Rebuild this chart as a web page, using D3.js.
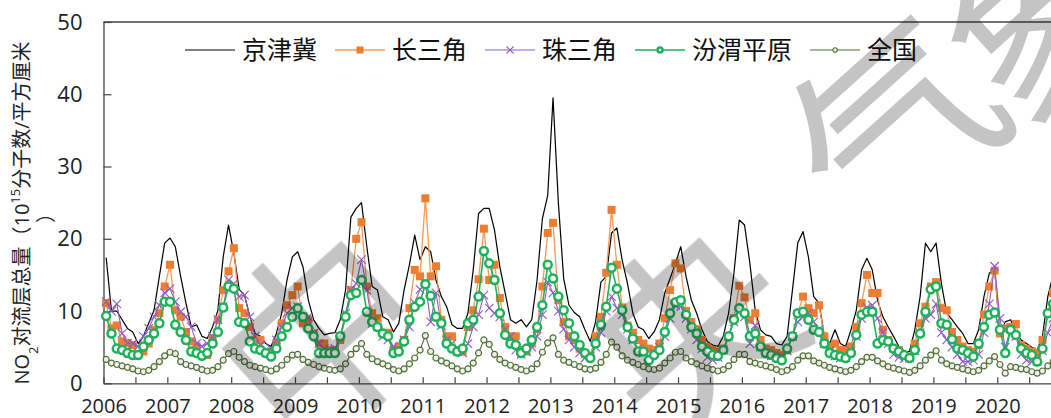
<!DOCTYPE html>
<html>
<head>
<meta charset="utf-8">
<script src="https://cdn.jsdelivr.net/npm/d3@7"></script>
<style>
  html, body { margin: 0; padding: 0; background: #fff; }
  svg { display: block; }
  text { font-family: "Open Sans", "Noto Sans CJK SC", sans-serif; }
</style>
</head>
<body>
<svg id="chart" width="1051" height="418"></svg>
<script>
// Monthly tropospheric NO2 columns, Jan 2006 - Dec 2020 (10^15 molecules/cm^2)
const startYear = 2006;
const yearLabels = [2006, 2007, 2008, 2009, 2010, 2011, 2012, 2013, 2014, 2015, 2016, 2017, 2018, 2019, 2020];
const yTicks = [0, 10, 20, 30, 40, 50];

const jingJinJi = [
  17.4, 10.0, 10.0, 8.8, 7.6, 7.1, 5.5, 6.5, 8.3, 10.1, 14.8, 19.4,
  20.1, 18.9, 14.8, 11.1, 7.8, 8.1, 6.5, 6.2, 7.8, 10.1, 17.5, 21.9,
  18.0, 13.0, 12.2, 9.3, 6.9, 6.5, 5.5, 5.1, 6.9, 9.7, 14.3, 17.5,
  18.2, 16.1, 11.5, 8.8, 7.6, 6.7, 6.9, 7.0, 8.8, 12.9, 23.0, 24.2,
  25.0, 18.9, 13.4, 12.9, 9.2, 8.8, 7.1, 8.3, 12.9, 16.4, 20.5, 17.1,
  18.9, 18.2, 14.3, 12.0, 10.6, 8.1, 7.6, 7.6, 9.7, 15.7, 23.5, 24.2,
  24.2, 21.2, 16.1, 12.5, 8.8, 8.3, 8.8, 7.8, 8.8, 14.3, 22.8, 26.0,
  39.5, 25.0, 14.5, 10.8, 9.8, 9.2, 7.4, 5.8, 8.5, 14.0, 14.8, 20.8,
  21.5, 17.0, 13.8, 9.7, 7.8, 7.4, 6.2, 7.1, 8.8, 12.5, 14.5, 16.6,
  18.9, 14.8, 11.5, 9.7, 7.4, 5.8, 5.3, 5.1, 6.5, 9.7, 15.2, 22.6,
  21.9, 16.6, 10.1, 7.4, 6.7, 6.5, 5.5, 5.3, 6.5, 12.9, 19.4, 21.0,
  17.5, 12.0, 11.1, 6.5, 5.5, 7.4, 5.5, 5.1, 7.4, 10.1, 15.7, 17.3,
  15.7, 11.5, 9.2, 7.8, 6.5, 5.1, 4.4, 4.4, 7.4, 12.0, 19.4, 18.2,
  19.4, 13.8, 9.7, 8.8, 7.8, 6.9, 5.5, 5.5, 7.4, 12.0, 15.2, 15.9,
  6.8, 8.5, 8.8, 7.0, 6.0, 5.5, 5.0, 4.6, 6.5, 12.0, 15.0, 18.0
];

const yangtzeDelta = [
  11.1, 7.6, 8.0, 5.8, 5.6, 5.3, 3.9, 4.4, 5.5, 7.4, 9.7, 13.4,
  16.4, 10.1, 9.2, 7.1, 5.8, 5.1, 3.9, 3.9, 6.2, 8.8, 12.9, 15.5,
  18.7, 10.4, 9.7, 7.8, 6.0, 6.0, 4.2, 4.4, 5.5, 8.3, 10.8, 12.2,
  13.4, 8.3, 8.8, 6.9, 5.5, 5.5, 4.6, 4.6, 6.0, 9.2, 12.9, 20.0,
  22.3, 13.4, 9.7, 9.0, 6.9, 7.0, 4.6, 5.1, 6.0, 10.4, 15.7, 14.8,
  25.6, 14.8, 16.2, 8.8, 6.5, 6.5, 4.6, 4.4, 7.8, 10.1, 14.4, 21.4,
  14.3, 16.4, 11.8, 7.8, 6.5, 6.5, 4.6, 4.4, 5.5, 7.5, 13.4, 20.8,
  22.2, 11.5, 8.5, 6.5, 6.0, 4.8, 4.0, 3.8, 6.5, 9.2, 15.3, 24.0,
  16.4, 10.5, 8.0, 7.0, 6.0, 5.5, 4.8, 4.6, 5.5, 9.0, 12.9, 16.6,
  15.9, 10.0, 8.5, 7.5, 6.0, 5.0, 4.6, 4.4, 4.8, 6.5, 9.0, 13.5,
  11.9, 8.8, 9.7, 6.0, 4.8, 4.6, 4.2, 3.9, 4.6, 6.5, 9.7, 12.0,
  10.4, 9.7, 10.8, 6.5, 5.1, 5.5, 4.6, 4.6, 5.1, 7.8, 11.1, 15.0,
  12.5, 12.5, 7.4, 6.0, 4.8, 4.6, 3.9, 3.7, 5.5, 8.3, 10.6, 13.4,
  14.0, 10.4, 10.1, 7.1, 6.0, 5.1, 4.6, 4.4, 5.3, 9.5, 13.4, 15.6,
  6.9, 7.6, 7.8, 8.2, 5.3, 4.8, 4.4, 4.2, 6.0, 9.7, 12.5, 15.0
];

const pearlDelta = [
  11.3, 10.0, 11.0, 6.9, 5.5, 5.5, 5.1, 6.5, 7.6, 9.2, 10.8, 12.5,
  13.1, 11.3, 9.9, 9.2, 7.8, 5.5, 5.1, 5.5, 6.5, 8.8, 10.6, 14.3,
  13.8, 12.0, 12.2, 9.2, 6.5, 5.3, 4.2, 4.8, 6.0, 7.8, 9.7, 10.4,
  10.6, 9.2, 9.2, 6.9, 5.5, 4.8, 4.6, 4.8, 6.5, 9.7, 12.9, 13.8,
  17.1, 12.9, 8.3, 7.8, 6.5, 6.0, 5.1, 4.6, 6.0, 7.8, 11.1, 13.0,
  13.8, 8.5, 12.5, 8.0, 6.0, 5.5, 4.4, 4.2, 5.5, 7.8, 9.5, 12.2,
  10.4, 9.7, 9.2, 7.4, 6.5, 4.6, 4.0, 4.4, 5.0, 6.5, 9.5, 14.0,
  12.5, 10.0, 7.5, 6.0, 5.0, 4.2, 3.5, 3.8, 5.0, 7.0, 10.0, 12.0,
  10.4, 9.5, 7.5, 6.0, 4.8, 4.2, 3.8, 4.2, 5.0, 6.5, 9.0, 10.8,
  10.6, 9.0, 7.5, 6.0, 4.8, 3.6, 3.2, 3.6, 4.6, 6.5, 8.5, 10.0,
  9.2, 5.5, 8.0, 5.0, 4.2, 3.8, 3.5, 3.8, 4.5, 6.5, 8.5, 9.2,
  9.7, 8.5, 7.5, 5.5, 4.5, 3.8, 3.5, 3.6, 4.5, 6.5, 9.0, 10.5,
  10.8, 9.0, 7.0, 5.5, 4.0, 3.6, 3.4, 3.5, 4.5, 7.0, 9.0, 9.5,
  11.0, 7.0, 6.0, 5.0, 4.0, 3.0, 3.0, 3.2, 4.0, 7.0, 11.0, 16.2,
  9.0, 5.0, 7.5, 6.5, 4.0, 3.2, 3.0, 3.0, 4.5, 7.0, 9.0, 12.0
];

const fenweiPlain = [
  9.3, 6.9, 4.8, 4.6, 4.2, 3.9, 3.9, 5.1, 6.0, 6.9, 8.3, 11.3,
  11.3, 8.1, 7.1, 6.0, 4.4, 4.2, 3.8, 4.2, 5.5, 7.1, 10.5, 13.4,
  13.1, 8.5, 8.3, 5.8, 4.8, 4.6, 4.2, 3.7, 4.8, 6.5, 7.8, 9.2,
  10.4, 9.2, 7.6, 6.5, 4.2, 4.2, 4.2, 4.2, 6.5, 9.2, 12.2, 12.5,
  14.3, 9.9, 8.5, 7.8, 6.9, 6.5, 4.2, 4.4, 5.8, 8.8, 10.6, 11.3,
  13.7, 12.1, 9.2, 8.3, 5.5, 4.8, 4.4, 4.8, 8.3, 8.8, 12.0, 18.3,
  16.6, 14.3, 9.7, 6.7, 5.5, 5.3, 4.2, 4.8, 6.0, 7.8, 10.8, 16.4,
  14.5, 12.0, 10.1, 8.3, 6.5, 5.3, 4.2, 3.5, 5.5, 8.1, 10.6, 16.0,
  13.1, 10.1, 7.8, 6.2, 4.4, 4.4, 3.2, 3.9, 4.6, 7.1, 9.7, 11.2,
  11.5, 9.5, 7.8, 6.9, 5.1, 4.4, 3.9, 3.8, 4.6, 6.5, 8.8, 10.4,
  9.7, 6.5, 6.9, 5.1, 4.2, 3.9, 3.5, 3.2, 4.8, 6.5, 9.7, 9.9,
  8.8, 7.4, 7.1, 5.5, 4.2, 3.9, 3.7, 3.5, 4.2, 6.7, 9.5, 9.9,
  9.9, 5.5, 6.0, 5.8, 4.8, 4.4, 3.9, 3.5, 4.6, 6.9, 9.9, 13.0,
  13.4, 8.3, 8.1, 6.1, 4.8, 4.6, 4.2, 3.7, 5.5, 7.8, 9.5, 9.8,
  7.4, 4.2, 7.4, 6.7, 4.8, 4.2, 3.9, 3.0, 4.8, 9.7, 11.0, 12.5
];

const nationwide = [
  3.3, 2.8, 2.6, 2.4, 2.2, 2.0, 1.7, 1.6, 1.8, 2.3, 3.0, 3.8,
  4.3, 4.1, 3.0, 2.6, 2.4, 2.2, 1.9, 1.7, 1.8, 2.3, 3.2, 4.1,
  4.4, 3.6, 3.0, 2.5, 2.3, 2.1, 1.9, 1.7, 2.0, 2.5, 3.3, 3.9,
  4.0, 3.3, 2.9, 2.6, 2.3, 2.1, 1.9, 1.8, 2.0, 2.7, 4.0, 4.8,
  5.5, 4.0, 3.4, 3.0, 2.7, 2.4, 1.9, 1.7, 2.0, 2.7, 3.5, 4.6,
  6.6, 4.4, 3.5, 3.1, 2.8, 2.4, 2.0, 1.7, 2.0, 2.8, 4.2, 6.0,
  5.4, 4.0, 3.3, 2.8, 2.5, 2.2, 1.9, 1.7, 2.0, 2.7, 4.3, 5.6,
  6.3, 4.0, 3.2, 2.9, 2.6, 2.3, 2.0, 1.9, 2.1, 2.9, 4.0, 5.7,
  5.0, 3.8, 3.2, 2.9, 2.6, 2.3, 2.0, 1.9, 2.1, 2.8, 3.5, 4.3,
  4.4, 3.5, 3.0, 2.7, 2.4, 2.1, 1.9, 1.7, 1.9, 2.4, 3.3, 4.0,
  4.0, 3.0, 2.8, 2.6, 2.4, 2.2, 1.9, 1.6, 1.8, 2.3, 3.2, 3.8,
  3.8, 3.1, 2.8, 2.5, 2.2, 2.0, 1.8, 1.6, 1.8, 2.3, 3.0, 3.6,
  3.6, 3.1, 2.7, 2.3, 2.1, 1.9, 1.7, 1.5, 1.8, 2.4, 3.2, 3.9,
  4.5, 3.2, 2.7, 2.4, 2.2, 2.0, 1.8, 1.6, 1.8, 2.4, 3.1, 3.7,
  2.6, 1.4, 2.3, 2.2, 2.0, 1.9, 1.6, 1.4, 1.7, 2.4, 3.0, 3.6
];

const seriesNames = ["京津冀", "长三角", "珠三角", "汾渭平原", "全国"];
const seriesValues = [jingJinJi, yangtzeDelta, pearlDelta, fenweiPlain, nationwide];

// Visual style per series
const styles = [
  { line: "#000000", width: 1.2, marker: "none" },
  { line: "#F39A5C", width: 1.3, marker: "square", color: "#ED7D31" },
  { line: "#8C5CC4", width: 1.1, marker: "cross", color: "#8C5CC4" },
  { line: "#1DB25A", width: 1.6, marker: "circle", color: "#1DB25A" },
  { line: "#4F6E34", width: 1.1, marker: "dot", color: "#4F6E34" }
];

const svg = d3.select("#chart");
const W = 1051, H = 418;
const plot = { left: 103.5, top: 22, bottom: 383.3 };
const monthPx = 5.32;
const totalMonths = 192;

const x = d3.scaleLinear()
  .domain([0, totalMonths])
  .range([plot.left, plot.left + totalMonths * monthPx]);
const y = d3.scaleLinear().domain([0, 50]).range([plot.bottom, plot.top]);

// Frame top edge
svg.append("line")
  .attr("x1", plot.left).attr("x2", W + 10)
  .attr("y1", plot.top).attr("y2", plot.top)
  .attr("stroke", "#444").attr("stroke-width", 1.3);

// Y axis
const yAxis = d3.axisLeft(y).tickValues(yTicks).tickSizeInner(-8).tickSizeOuter(0).tickPadding(21);
const gy = svg.append("g").attr("transform", `translate(${plot.left},0)`).call(yAxis);
gy.select(".domain").attr("stroke", "#444").attr("stroke-width", 1.3);
gy.selectAll(".tick line").attr("stroke", "#444").attr("stroke-width", 1.2);
gy.selectAll(".tick text").attr("font-size", 22).attr("fill", "#222")
  .attr("font-family", "'Open Sans', sans-serif");

// X axis: tick every half year, label every year
const halfYears = d3.range(0, totalMonths + 1, 6);
const xAxis = d3.axisBottom(x).tickValues(halfYears).tickSizeInner(-6).tickSizeOuter(0).tickPadding(16)
  .tickFormat(m => (m % 12 === 0 && yearLabels.includes(startYear + m / 12)) ? String(startYear + m / 12) : "");
const gx = svg.append("g").attr("transform", `translate(0,${plot.bottom})`).call(xAxis);
gx.select(".domain").attr("stroke", "#444").attr("stroke-width", 1.3);
gx.selectAll(".tick line").attr("stroke", "#444").attr("stroke-width", 1.2);
gx.selectAll(".tick text").attr("font-size", 20).attr("fill", "#222")
  .attr("font-family", "'Open Sans', sans-serif");

// Y axis title (two lines, rotated)
const title = svg.append("text")
  .attr("transform", "translate(29,213) rotate(-90)")
  .attr("text-anchor", "middle")
  .attr("font-size", 20).attr("fill", "#222");
title.append("tspan").text("NO");
title.append("tspan").attr("baseline-shift", "sub").attr("font-size", 13).text("2");
title.append("tspan").text("对流层总量（10");
title.append("tspan").attr("baseline-shift", "super").attr("font-size", 13).text("15");
title.append("tspan").text("分子数/平方厘米");
svg.append("text")
  .attr("transform", "translate(53,213) rotate(-90)")
  .attr("text-anchor", "middle")
  .attr("font-size", 20).attr("fill", "#222")
  .text("）");

// Series
const lineGen = d3.line().x(d => x(d.m + 0.5)).y(d => y(d.v));
const plotG = svg.append("g");

function drawMarker(sel, kind, color, size) {
  if (kind === "square") {
    sel.append("rect").attr("x", -size / 2).attr("y", -size / 2)
      .attr("width", size).attr("height", size).attr("fill", color);
  } else if (kind === "cross") {
    const h = size / 2;
    sel.append("path").attr("d", `M${-h},${-h}L${h},${h}M${-h},${h}L${h},${-h}`)
      .attr("stroke", color).attr("stroke-width", 1.1).attr("fill", "none");
  } else if (kind === "circle") {
    sel.append("circle").attr("r", size / 2).attr("fill", "#fff")
      .attr("stroke", color).attr("stroke-width", 2.5);
  } else if (kind === "dot") {
    sel.append("circle").attr("r", size / 2).attr("fill", "#eef1ea")
      .attr("stroke", color).attr("stroke-width", 1.2);
  }
}

const markerSize = { square: 8, cross: 8.5, circle: 8, dot: 6 };

seriesValues.forEach((vals, i) => {
  const st = styles[i];
  const pts = vals.map((v, m) => ({ m, v }));
  plotG.append("path").datum(pts)
    .attr("d", lineGen).attr("fill", "none")
    .attr("stroke", st.line).attr("stroke-width", st.width).attr("stroke-linejoin", "round");
  if (st.marker !== "none") {
    const g = plotG.append("g");
    pts.forEach(p => {
      const mk = g.append("g").attr("transform", `translate(${x(p.m + 0.5)},${y(p.v)})`);
      drawMarker(mk, st.marker, st.color, markerSize[st.marker]);
    });
  }
});

// Legend
const legend = svg.append("g");
let lx = 185;
const ly = 50;
seriesNames.forEach((name, i) => {
  const st = styles[i];
  legend.append("line").attr("x1", lx).attr("x2", lx + 50).attr("y1", ly).attr("y2", ly)
    .attr("stroke", st.line).attr("stroke-width", Math.max(st.width, 1.2));
  if (st.marker !== "none") {
    const mk = legend.append("g").attr("transform", `translate(${lx + 25},${ly})`);
    drawMarker(mk, st.marker, st.color, st.marker === "circle" ? 5 : (st.marker === "dot" ? 4.5 : 7));
  }
  const t = legend.append("text").attr("x", lx + 57).attr("y", ly)
    .attr("dy", "0.36em").attr("font-size", 25).attr("fill", "#111")
    .attr("font-family", "'Noto Sans CJK SC', sans-serif").text(name);
  lx = lx + 57 + t.node().getComputedTextLength() + 18;
});

// Watermark glyphs laid over the chart
const stampChars = ["中", "央", "气", "象"];
const stampPos = [[318, 335], [690, 330], [893, 122], [1045, 12]];
const wm = svg.append("g").style("mix-blend-mode", "multiply");
stampChars.forEach((c, i) => {
  wm.append("text")
    .attr("transform", `translate(${stampPos[i][0]},${stampPos[i][1]}) rotate(-42)`)
    .attr("text-anchor", "middle").attr("dominant-baseline", "central")
    .attr("font-size", 200).attr("font-weight", 400)
    .attr("font-family", "'Noto Sans CJK SC', sans-serif")
    .attr("fill", "#c4c4c4")
    .text(c);
});
</script>
</body>
</html>
